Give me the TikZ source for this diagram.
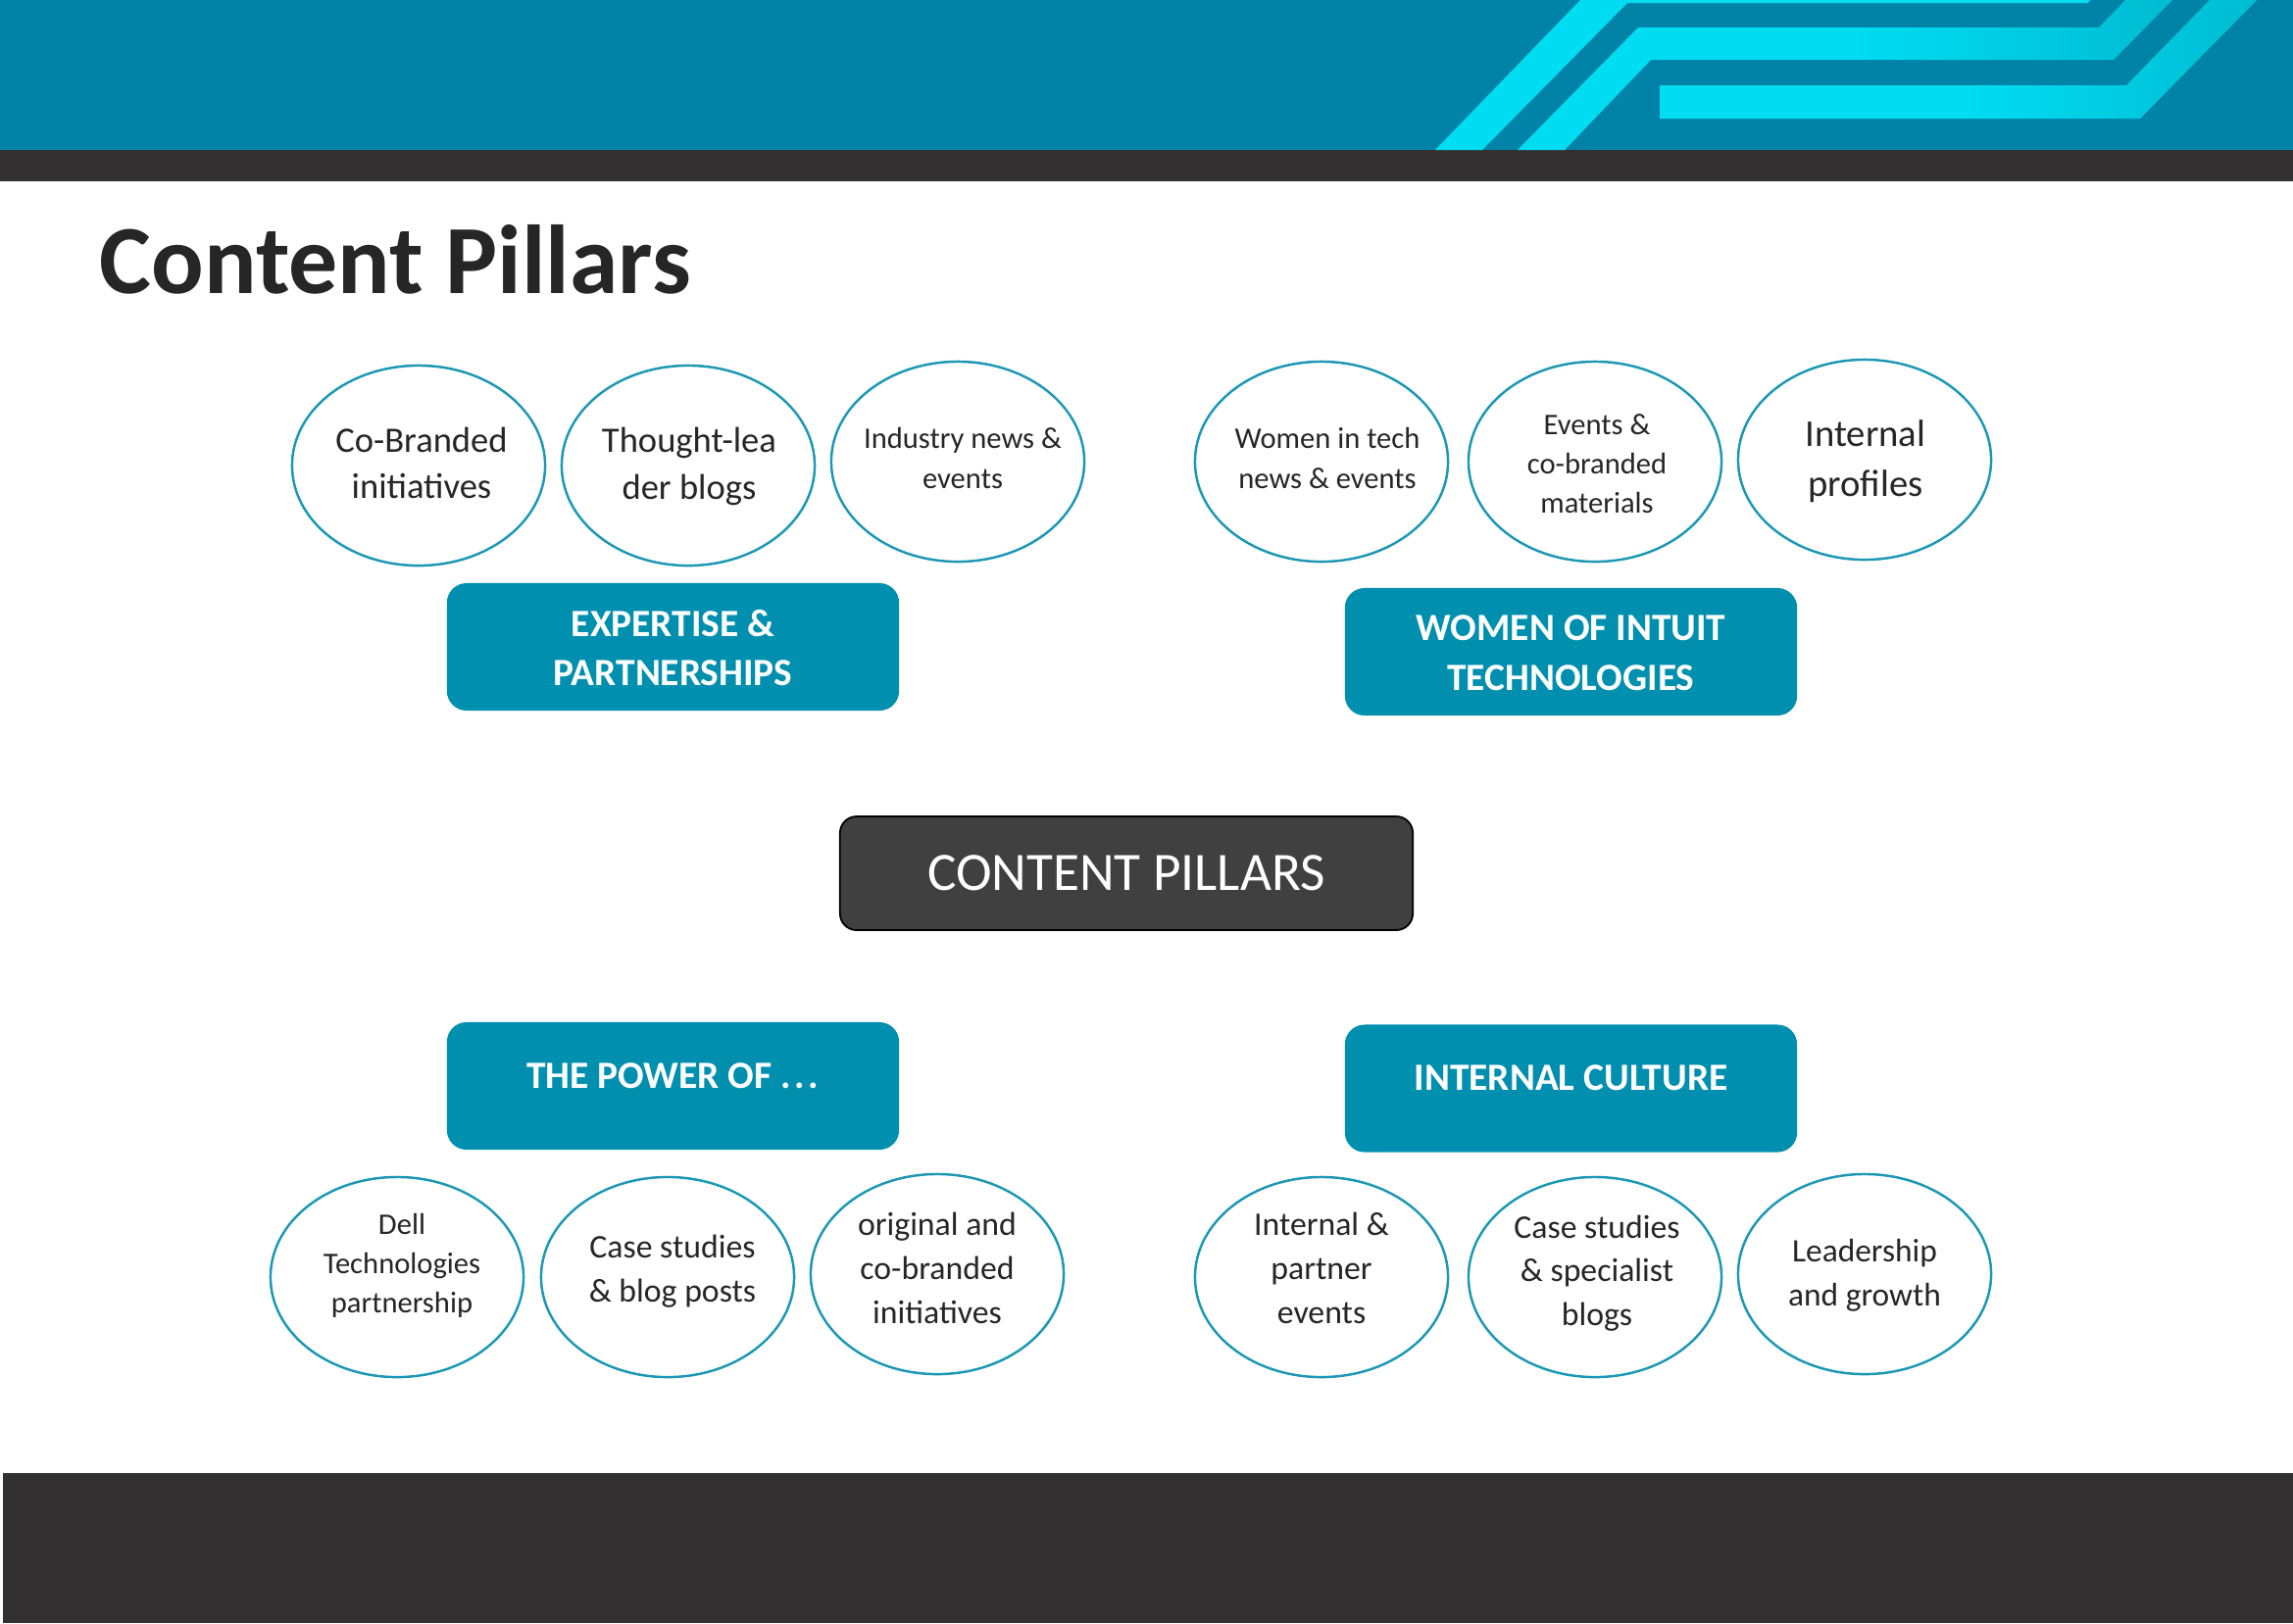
\documentclass[tikz,border=0pt]{standalone}
\usepackage{fontspec}
\setmainfont{Carlito}
\definecolor{headteal}{HTML}{0083A6}
\definecolor{headdark}{HTML}{333031}
\definecolor{headcyan}{HTML}{00DDF3}
\definecolor{headfade}{HTML}{00BCD2}
\definecolor{boxteal}{HTML}{008FAE}
\definecolor{ringteal}{HTML}{1C98B4}
\definecolor{centergrey}{HTML}{404040}
\definecolor{inkdark}{HTML}{262626}
\tikzset{
	pillarring/.style={draw=ringteal,line width=.7pt,fill=white,ellipse,inner sep=0pt,minimum width=2.58cm,minimum height=2.04cm},
	pillartext/.style={align=center,inner sep=0pt,text=inkdark},
	pillarbox/.style={fill=boxteal,rounded corners=.2cm,inner sep=0pt,minimum width=4.61cm,minimum height=1.3cm},
	pillarhead/.style={align=center,inner sep=0pt,text=white,font=\fontsize{11.2}{14.4}\selectfont\bfseries},
	bandfade/.style={left color=headcyan,right color=headfade,middle color=headcyan}
}
\usetikzlibrary{shapes.geometric}
\begin{document}
\begin{tikzpicture}[x=.01cm,y=-.01cm,line join=round]
	\useasboundingbox (0,0) rectangle (2339,1656);
	\fill[headteal] (0,0) rectangle (2339,153);
	\fill[headdark] (0,153) rectangle (2339,185);
	\fill[headdark] (3,1503) rectangle (2339,1656);
	\fill[headcyan] (1464,153)--(1612,0)--(2132,0)--(2130,3)--(1660,3)--(1512,153)--cycle;
	\shade[bandfade] (1548,153)--(1671,28)--(2141,28)--(2168,0)--(2216,0)--(2156,61)--(1684,61)--(1596,153)--cycle;
	\shade[bandfade] (1693,87)--(2169,87)--(2254,0)--(2302,0)--(2183,121)--(1693,121)--cycle;
	\node[inner sep=0pt,anchor=west,text=inkdark,font=\fontsize{28.4}{32}\selectfont\bfseries] (pagetitle) at (101,265) {Content Pillars};
	\foreach \n/\x/\y/\tx/\ty/\s/\g/\txt in {
		cobrand/427/475/430/472.5/10.4/13.5/Co-Branded\\initiatives,
		thought/702/475/703/476/10.4/13.5/Thought-lea\\der blogs,
		industry/977/471/982/467.5/8.7/11.4/Industry news \&\\events,
		women/1348/471/1354/467.5/8.7/11.4/Women in tech\\news \& events,
		events/1627/471/1629/473/8.7/11.4/Events \&\\co-branded\\materials,
		profiles/1902/469/1903/470.5/11/14.4/Internal\\profiles,
		dell/405/1303/410/1291.5/8.7/11.4/Dell\\Technologies\\partnership,
		casestudy/681/1303/686/1297/9.6/12.7/Case studies\\\& blog posts,
		original/956/1300/956/1294/9.6/12.7/original and\\co-branded\\initiatives,
		partner/1348/1303/1348/1294/9.6/12.7/Internal \&\\partner\\events,
		specialist/1627/1303/1629/1299/9.6/12.7/Case studies\\\& specialist\\blogs,
		leadership/1902/1300/1902/1301/9.5/12.7/Leadership\\and growth}
		{\node[pillarring] (\n) at (\x,\y) {};
		\node[pillartext,font=\fontsize{\s}{\g}\selectfont] (\n text) at (\tx,\ty) {\txt};}
	\node[pillarbox] (expertise) at (686.5,660) {};
	\node[pillarhead] (expertise text) at (686.5,661) {EXPERTISE \&\\PARTNERSHIPS};
	\node[pillarbox] (womenintuit) at (1602.5,665) {};
	\node[pillarhead] (womenintuit text) at (1602.5,666) {WOMEN OF INTUIT\\TECHNOLOGIES};
	\node[pillarbox] (power) at (686.5,1108) {};
	\node[pillarhead] (power text) at (686,1098) {THE POWER OF .\kern1pt.\kern1pt.};
	\node[pillarbox] (culture) at (1602.5,1110.5) {};
	\node[pillarhead] (culture text) at (1602.5,1099.5) {INTERNAL CULTURE};
	\node[draw=black,line width=.5pt,fill=centergrey,rounded corners=.17cm,inner sep=0pt,minimum width=5.84cm,minimum height=1.16cm,text=white,font=\fontsize{15.7}{18}\selectfont] (pillars) at (1149,891) {CONTENT PILLARS};
\end{tikzpicture}
\end{document}
